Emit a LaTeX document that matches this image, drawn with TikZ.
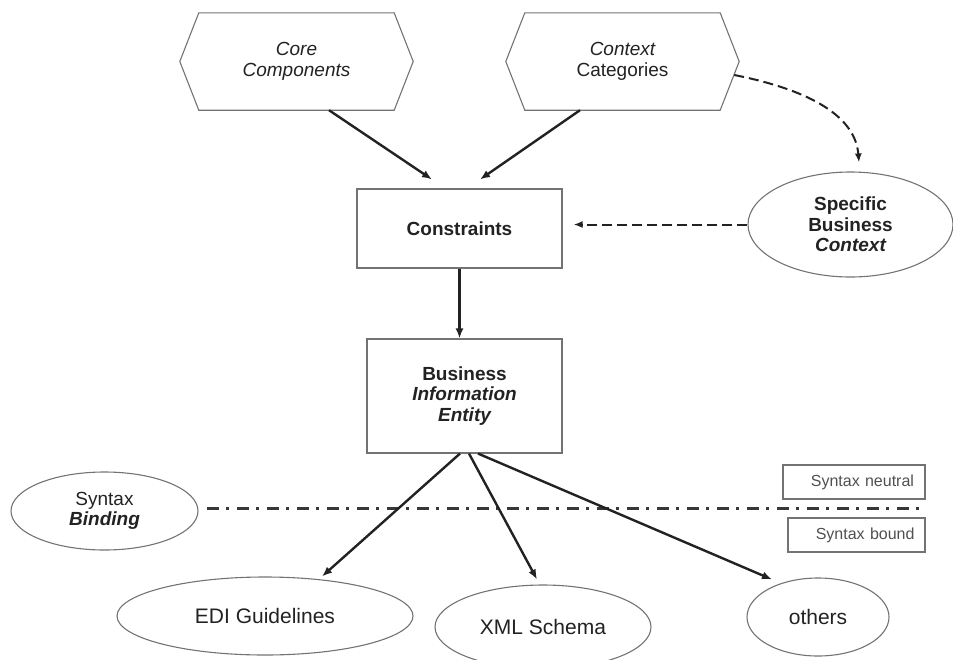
\documentclass[tikz,border=0pt]{standalone}
\usepackage{fontspec}
\setmainfont{Liberation Sans}
\usetikzlibrary{arrows.meta,shapes.geometric}
\definecolor{ink}{RGB}{34,34,34}
\definecolor{border}{RGB}{115,115,115}
\definecolor{lighttext}{RGB}{80,80,80}
\tikzset{
  txt/.style={font=\fontsize{19}{20.5}\selectfont, text=ink, align=center},
  hexnode/.style={txt, draw=none, minimum width=233pt, minimum height=97pt, inner sep=0pt},
  boxnode/.style={txt, draw=border, line width=1.1pt, inner sep=0pt},
  ell/.style={txt, ellipse, draw=border, line width=1.1pt, inner sep=0pt},
  hexborder/.style={draw=border, line width=1.1pt},
  labelbox/.style={draw=border, line width=1.1pt, font=\fontsize{16}{18}\selectfont, text=lighttext, align=right, inner sep=0pt, text width=#1},
  conn/.style={draw=ink, line width=2.4pt, -{Latex[length=10pt,width=8pt]}},
  dconn/.style={draw=ink, line width=2pt, dash pattern=on 10pt off 5pt, -{Latex[length=9pt,width=7pt]}},
  divider/.style={draw=black!78, line width=3pt, dash pattern=on 12pt off 7pt on 3pt off 8pt}
}
\begin{document}
\begin{tikzpicture}[x=1pt,y=-1pt]
\useasboundingbox (0,0) rectangle (953,659);
% hexagons
\node[hexnode] (cc) at (296.5,61.5) {\itshape Core\\\itshape Components};
\draw[hexborder] (cc.west) -- ([xshift=19pt]cc.north west) -- ([xshift=-19pt]cc.north east) -- (cc.east) -- ([xshift=-19pt]cc.south east) -- ([xshift=19pt]cc.south west) -- cycle;
\node[hexnode] (ctx) at (622.5,61.5) {\itshape Context\\Categories};
\draw[hexborder] (ctx.west) -- ([xshift=19pt]ctx.north west) -- ([xshift=-19pt]ctx.north east) -- (ctx.east) -- ([xshift=-19pt]ctx.south east) -- ([xshift=19pt]ctx.south west) -- cycle;
% boxes
\node[boxnode, minimum width=205pt, minimum height=79pt] (con) at (459.5,228.5) {\bfseries Constraints};
\node[boxnode, minimum width=195pt, minimum height=114pt] (bie) at (464.5,396) {\bfseries Business\\\bfseries\itshape Information\\\bfseries\itshape Entity};
% ellipses
\node[ell, minimum width=205pt, minimum height=105pt] (sbc) at (850.5,224.5) {\bfseries Specific\\\bfseries Business\\\bfseries\itshape Context};
\node[ell, minimum width=187pt, minimum height=78pt] (sb) at (104.5,511) {Syntax\\\bfseries\itshape Binding};
\node[ell, minimum width=296pt, minimum height=78pt, font=\fontsize{21}{23}\selectfont] (edi) at (265,616) {EDI Guidelines};
\node[ell, minimum width=216pt, minimum height=84pt, font=\fontsize{21}{23}\selectfont] (xml) at (543,627) {XML Schema};
\node[ell, minimum width=142pt, minimum height=78pt, font=\fontsize{21}{23}\selectfont] (oth) at (818,617) {others};
% syntax boxes
\node[labelbox=120pt, minimum width=142pt, minimum height=34pt] (neu) at (854,482) {Syntax neutral};
\node[labelbox=116pt, minimum width=137pt, minimum height=34pt] (bnd) at (856.5,535) {Syntax bound};
% divider
\coordinate (dl) at (207,508);
\coordinate (dr) at (920,508);
\draw[divider] (dl) -- (dr);
% connectors
\draw[conn] ([xshift=32.5pt]cc.south) -- ([xshift=-27.5pt,yshift=9pt]con.north);
\draw[conn] ([xshift=-42.5pt]ctx.south) -- ([xshift=20.5pt,yshift=9pt]con.north);
\draw[conn] (con.south) -- (con.south |- bie.north);
\draw[dconn, shorten >=11pt] (sbc.west) -- (sbc.west -| con.east);
\draw[dconn] ([xshift=-5pt,yshift=-13.5pt]ctx.east) .. controls (800,88) and (855,112) .. ([xshift=8.5pt,yshift=9pt]sbc.north);
\draw[conn] ([xshift=-4.5pt]bie.south) -- ([xshift=57pt]edi.north);
\draw[conn] ([xshift=4.5pt]bie.south) -- ([xshift=-6pt,yshift=5pt]xml.north);
\draw[conn] ([xshift=13.5pt]bie.south) -- ([xshift=-46pt,yshift=-2pt]oth.north);
\end{tikzpicture}
\end{document}
